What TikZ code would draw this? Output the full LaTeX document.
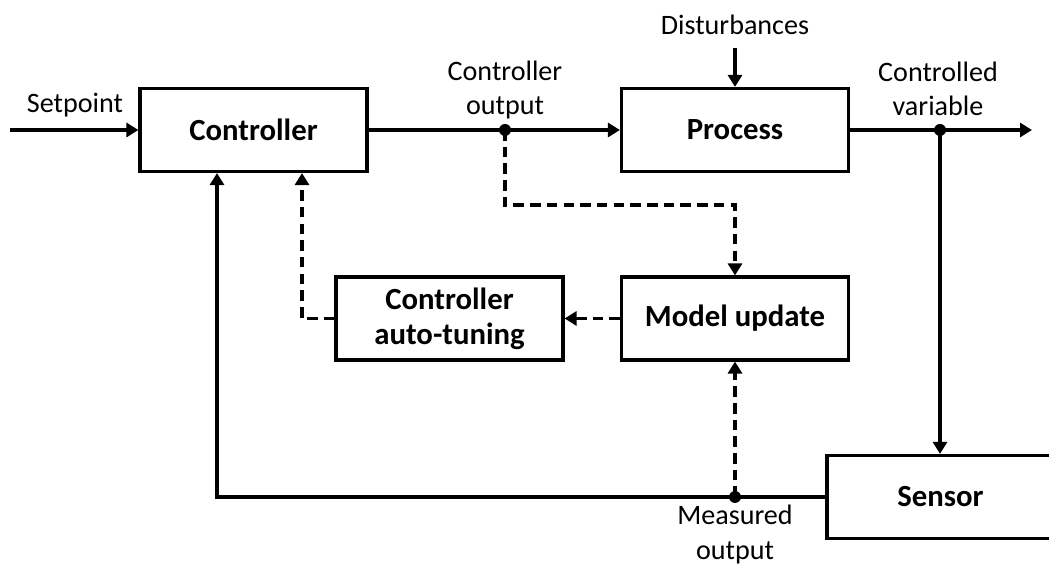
\documentclass[tikz,border=0pt]{standalone}
\usepackage{fontspec}
\setmainfont{Carlito}
\usetikzlibrary{arrows.meta}

\newcommand{\lblsize}{\fontsize{16}{19.5}\selectfont}
\newcommand{\blksize}{\fontsize{17.5}{20}\selectfont}

\begin{document}
\begin{tikzpicture}[
    font=\lblsize,
    block/.style={draw, line width=1.8pt, minimum width=4.54cm, minimum height=1.66cm, align=center, font=\blksize\bfseries},
    sig/.style={line width=1.8pt, -{Triangle[length=2.4mm,width=2.8mm]}},
    dsig/.style={sig, dash pattern=on 6pt off 3.5pt}]
    \useasboundingbox (0,0) rectangle (20.98,11.32);
    \clip (0,0) rectangle (20.98,11.32);
    % blocks
    \node[block] (ctrl) at (5.07,8.72) {Controller};
    \node[block] (proc) at (14.7,8.72) {Process};
    \node[block] (tune) at (8.99,4.95) {Controller\\auto-tuning};
    \node[block] (model) at (14.7,4.95) {Model update};
    \node[block] (sens) at (18.81,1.38) {Sensor};
    % signal points
    \coordinate (sp) at (0.2,8.72);
    \coordinate (u) at (10.1,8.72);
    \coordinate (yv) at (18.8,8.72);
    \coordinate (out) at (20.64,8.72);
    \coordinate (dist) at (14.7,10.36);
    \coordinate (ym) at (14.7,1.38);
    % main loop
    \draw[sig] (sp) -- (ctrl.west);
    \draw[sig] (ctrl.east) -- (proc.west);
    \draw[sig] (proc.east) -- (out);
    \draw[sig] (dist) -- (proc.north);
    \draw[sig] (yv) -- (yv |- sens.north);
    \draw[sig] (sens.west) -| ([xshift=-0.73cm]ctrl.south);
    % adaptation
    \draw[dsig] (u) -- ++(0,-1.5) -| (model.north);
    \draw[dsig] (model.west) -- (tune.east);
    \draw[dsig] (tune.west) -| ([xshift=0.97cm]ctrl.south);
    \draw[dsig] (ym) -- (model.south);
    \fill (u) circle (0.12);
    \fill (yv) circle (0.12);
    \fill (ym) circle (0.12);
    % labels
    \node (splbl) at (1.5,9.22) {Setpoint};
    \node[align=center] (ulbl) at (10.1,9.52) {Controller\\output};
    \node[align=center] (ylbl) at (18.76,9.55) {Controlled\\variable};
    \node (dlbl) at (14.7,10.82) {Disturbances};
    \node[align=center] (ymlbl) at (14.7,0.63) {Measured\\output};
\end{tikzpicture}
\end{document}
